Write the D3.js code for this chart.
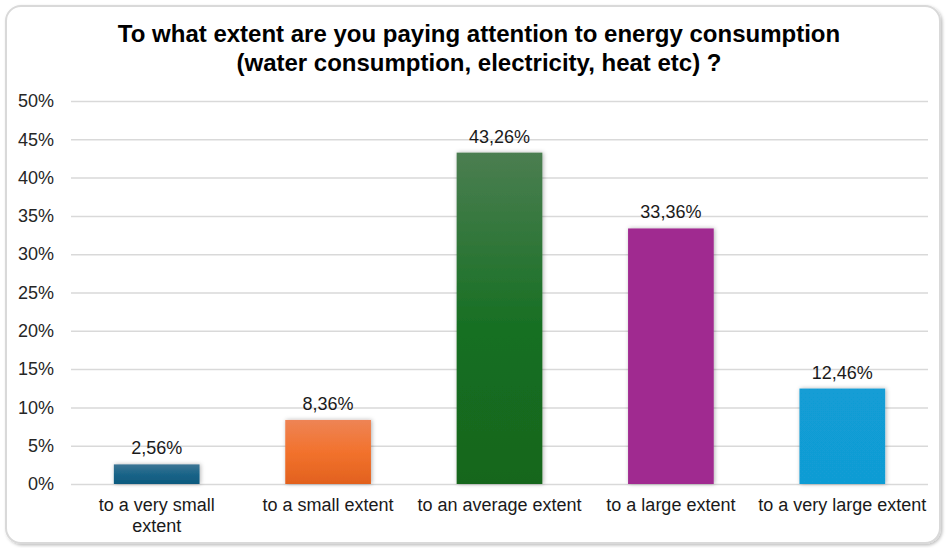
<!DOCTYPE html>
<html>
<head>
<meta charset="utf-8">
<script src="https://cdn.jsdelivr.net/npm/d3@7"></script>
<style>
  html, body { margin: 0; padding: 0; background: #fff; }
  svg { display: block; font-family: "Liberation Sans", Arial, sans-serif; }
</style>
</head>
<body>
<svg id="chart" width="946" height="548"></svg>
<script>
// Survey answers and shares (%)
const categories = [
  ["to a very small", "extent"],
  ["to a small extent"],
  ["to an average extent"],
  ["to a large extent"],
  ["to a very large extent"]
];
const values = [2.56, 8.36, 43.26, 33.36, 12.46];
const yTicks = [0, 5, 10, 15, 20, 25, 30, 35, 40, 45, 50];
const titleLines = [
  "To what extent are you paying attention to energy consumption",
  "(water consumption, electricity, heat etc) ?"
];
// Fill stops per bar: [offset, color]
const barFills = [
  [[0, "#3b7594"], [0.5, "#1a6488"], [1, "#0c597e"]],
  [[0, "#ee8455"], [0.5, "#f2722d"], [1, "#e2611e"]],
  [[0, "#4b7e51"], [0.55, "#156f21"], [1, "#12661e"]],
  [[0, "#a02b90"], [1, "#a02b90"]],
  [[0, "#129dd5"], [1, "#119cd4"]]
];

const svg = d3.select("#chart");
const W = 946, H = 548;
const margin = { left: 71, right: 18, top: 101, bottom: 64 };
const plotW = W - margin.left - margin.right;
const plotH = H - margin.top - margin.bottom;

const defs = svg.append("defs");
const frameShadow = defs.append("filter").attr("id", "frameShadow")
  .attr("x", "-5%").attr("y", "-5%").attr("width", "110%").attr("height", "110%");
frameShadow.append("feDropShadow").attr("dx", 1.5).attr("dy", 1.5)
  .attr("stdDeviation", 1.5).attr("flood-color", "#000").attr("flood-opacity", 0.25);
const barShadow = defs.append("filter").attr("id", "barShadow")
  .attr("x", "-20%").attr("y", "-20%").attr("width", "140%").attr("height", "140%");
barShadow.append("feDropShadow").attr("dx", 1).attr("dy", 0)
  .attr("stdDeviation", 2).attr("flood-color", "#000").attr("flood-opacity", 0.3);

barFills.forEach((stops, i) => {
  const g = defs.append("linearGradient").attr("id", "fill" + i)
    .attr("x1", 0).attr("y1", 0).attr("x2", 0).attr("y2", 1);
  stops.forEach(([o, c]) => g.append("stop").attr("offset", o).attr("stop-color", c));
});

// Chart frame
svg.append("rect")
  .attr("x", 6).attr("y", 6).attr("width", 934).attr("height", 537)
  .attr("rx", 15).attr("ry", 15)
  .attr("fill", "#fff").attr("stroke", "#d9d9d9").attr("stroke-width", 2)
  .attr("filter", "url(#frameShadow)");

// Title
svg.append("text")
  .attr("x", 479).attr("text-anchor", "middle")
  .attr("font-size", 24).attr("font-weight", "bold").attr("fill", "#000")
  .selectAll("tspan").data(titleLines).join("tspan")
  .attr("x", 479).attr("y", (d, i) => 42 + i * 29)
  .text(d => d);

const x = d3.scaleBand()
  .domain(d3.range(categories.length))
  .range([margin.left, margin.left + plotW])
  .paddingInner(0.5).paddingOuter(0.25);
const y = d3.scaleLinear().domain([0, 50]).range([margin.top + plotH, margin.top]);

const pct = d3.formatLocale({ decimal: ",", thousands: " ", grouping: [3], currency: ["", ""] });
const fmtVal = pct.format(".2f");

// Gridlines and y axis labels
const yAxis = d3.axisLeft(y).tickValues(yTicks)
  .tickSize(-plotW).tickPadding(17).tickFormat(d => d + "%");
const gy = svg.append("g").attr("transform", `translate(${margin.left},0)`).call(yAxis);
gy.select(".domain").remove();
gy.selectAll(".tick line").attr("stroke", "#d9d9d9").attr("stroke-width", 1.5);
gy.selectAll(".tick text").attr("font-size", 18).attr("fill", "#262626")
  .attr("font-family", "Liberation Sans, Arial, sans-serif");

// Bars
svg.append("g").selectAll("rect").data(values).join("rect")
  .attr("x", (d, i) => x(i))
  .attr("y", d => y(d))
  .attr("width", x.bandwidth())
  .attr("height", d => y(0) - y(d))
  .attr("fill", (d, i) => `url(#fill${i})`)
  .attr("filter", "url(#barShadow)");

// Value labels
svg.append("g").selectAll("text").data(values).join("text")
  .attr("x", (d, i) => x(i) + x.bandwidth() / 2)
  .attr("y", d => y(d) - 10)
  .attr("text-anchor", "middle")
  .attr("font-size", 18).attr("fill", "#1a1a1a")
  .text(d => fmtVal(d) + "%");

// Category labels
const cat = svg.append("g").selectAll("text").data(categories).join("text")
  .attr("text-anchor", "middle")
  .attr("font-size", 18).attr("fill", "#1a1a1a");
cat.selectAll("tspan").data((d, i) => d.map(t => ({ t, i }))).join("tspan")
  .attr("x", d => x(d.i) + x.bandwidth() / 2)
  .attr("y", (d, j) => 511 + j * 21)
  .text(d => d.t);
</script>
</body>
</html>
